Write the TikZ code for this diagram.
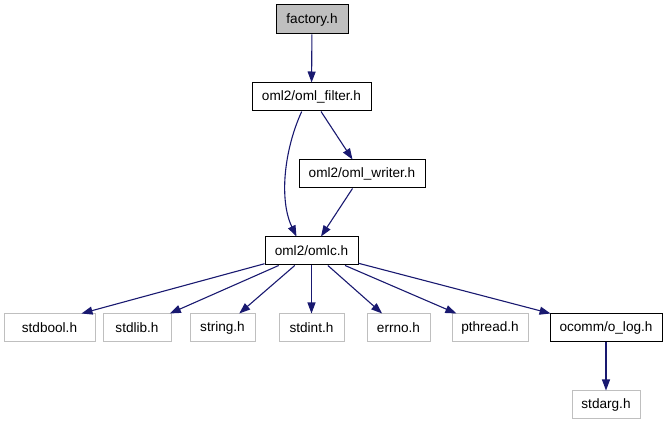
\documentclass[tikz,border=0pt]{standalone}
\usepackage{fontspec}
\setmainfont{Liberation Sans}
\usetikzlibrary{arrows.meta,calc}
\definecolor{edgeblue}{HTML}{191970}
\definecolor{extgray}{HTML}{BFBFBF}
\tikzset{
  box/.style={draw=black, line width=1pt, inner sep=0pt, minimum height=28pt, font=\fontsize{13.6}{15}\selectfont},
  extbox/.style={box, draw=extgray},
  mainbox/.style={box, fill=extgray},
  edge/.style={draw=edgeblue, line width=1.1pt, -{Triangle[length=11pt,width=8pt]}}
}
\begin{document}
\begin{tikzpicture}[x=1pt,y=-1pt]
\useasboundingbox (0,0) rectangle (667,427);
\node[mainbox, minimum width=72pt, minimum height=29pt] (factory) at (312,19.5) {factory.h};
\node[box, minimum width=119pt] (filter) at (311.5,97) {oml2/oml\_filter.h};
\node[box, minimum width=126pt] (writer) at (362,174) {oml2/oml\_writer.h};
\node[box, minimum width=93pt] (omlc) at (311.5,251) {oml2/omlc.h};
\node[extbox, minimum width=91pt] (stdbool) at (49.5,328) {stdbool.h};
\node[extbox, minimum width=68pt] (stdlib) at (137,328) {stdlib.h};
\node[extbox, minimum width=65pt] (string) at (222.5,328) {string.h};
\node[extbox, minimum width=65pt] (stdint) at (311.5,328) {stdint.h};
\node[extbox, minimum width=63pt] (errno) at (398.5,328) {errno.h};
\node[extbox, minimum width=76pt] (pthread) at (490,328) {pthread.h};
\node[box, minimum width=112pt] (olog) at (606,328) {ocomm/o\_log.h};
\node[extbox, minimum width=68pt] (stdarg) at (606,405) {stdarg.h};

\draw[edge] (factory) -- (filter);
\draw[edge] (filter.236) .. controls (284,150) and (279,200) .. (omlc.136);
\draw[edge] (filter) -- (writer);
\draw[edge] (writer) -- (omlc);
\draw[edge] (omlc) -- ($(stdbool.north east)+(-14,0)$);
\draw[edge] (omlc) -- (stdlib);
\draw[edge] (omlc) -- (string);
\draw[edge] (omlc) -- (stdint);
\draw[edge] (omlc) -- (errno);
\draw[edge] (omlc) -- (pthread);
\draw[edge] (omlc) -- (olog);
\draw[edge] (olog) -- (stdarg);
\end{tikzpicture}
\end{document}
